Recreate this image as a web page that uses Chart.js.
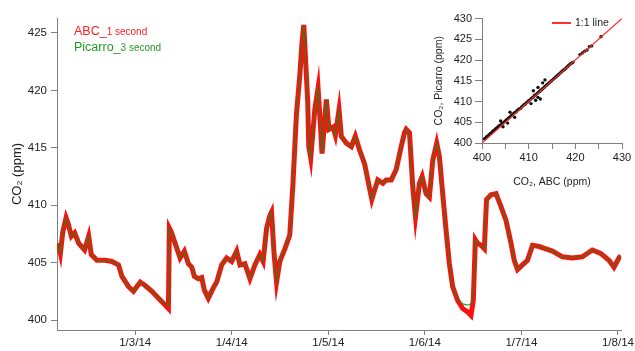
<!DOCTYPE html>
<html>
<head>
<meta charset="utf-8">
<script src="https://cdn.jsdelivr.net/npm/chart.js@4"></script>
<style>
  html, body { margin: 0; padding: 0; background: #fff; }
  #wrap { position: relative; width: 635px; height: 351px; font-family: 'Liberation Sans', Arial, sans-serif; }
  #main { position: absolute; left: 0; top: 0; }
  #inset { position: absolute; left: 420px; top: 0; }
  .leg { position: absolute; left: 74px; line-height: 16px; white-space: nowrap; }
  .big { font-size: 12.5px; }
  .small { font-size: 10px; }
  #oneone { position: absolute; left: 552px; top: 15px; font-size: 10.5px; color: #222; line-height: 15px; }
  #oneone i { display: inline-block; width: 19px; height: 1.5px; background: #ff3030; vertical-align: middle; margin-right: 4px; }
</style>
</head>
<body>
<div id="wrap">
  <canvas id="main" width="635" height="351"></canvas>
  <canvas id="inset" width="215" height="190"></canvas>
  <div class="leg" style="top:22px;color:#ff2020"><span class="big">ABC_</span><span class="small">1 second</span></div>
  <div class="leg" style="top:38px;color:#239a23"><span class="big">Picarro_</span><span class="small">3 second</span></div>
  <div id="oneone"><i></i>1:1 line</div>
</div>
<script>
// Zeitachse in Tagen (1/x/14), Werte in ppm
const days = [2.201, 2.225, 2.249, 2.284, 2.305, 2.339, 2.373, 2.414, 2.476, 2.518, 2.545, 2.604, 2.690, 2.759, 2.827, 2.863, 2.931, 2.982,
  3.052, 3.103, 3.173, 3.241, 3.310, 3.344, 3.354, 3.372, 3.413, 3.465, 3.509, 3.551, 3.586, 3.613, 3.654, 3.689, 3.716, 3.757, 3.809, 3.844, 3.896, 3.947, 3.999,
  4.051, 4.085, 4.136, 4.188, 4.240, 4.291, 4.325, 4.361, 4.395, 4.412, 4.439, 4.464, 4.498, 4.550, 4.601, 4.635, 4.670, 4.705, 4.728, 4.746, 4.787, 4.798, 4.818, 4.860, 4.894, 4.921, 4.935, 4.980,
  5.007, 5.049, 5.073, 5.111, 5.135, 5.187, 5.239, 5.280, 5.324, 5.376, 5.410, 5.451, 5.479, 5.513, 5.565, 5.600, 5.652, 5.703, 5.755, 5.789, 5.807, 5.841, 5.875, 5.903, 5.944, 5.972,
  6.013, 6.047, 6.082, 6.123, 6.151, 6.185, 6.220, 6.254, 6.288, 6.340, 6.392, 6.443, 6.478, 6.502, 6.523, 6.546, 6.582, 6.616, 6.639, 6.685, 6.737, 6.788, 6.840, 6.892, 6.926, 6.960,
  7.011, 7.063, 7.115, 7.184, 7.253, 7.321, 7.425, 7.528, 7.631, 7.735, 7.821, 7.907, 7.959, 8.010, 8.030];

const abc = [406.7, 405.8, 407.6, 408.9, 408.4, 407.3, 407.6, 406.7, 406.1, 407.3, 405.7, 405.2, 405.2, 405.1, 404.8, 403.8, 402.9, 402.5,
  403.3, 403.0, 402.5, 401.9, 401.3, 401.0, 408.0, 407.7, 406.7, 405.4, 406.0, 404.9, 404.6, 403.8, 403.6, 403.7, 402.6, 401.9, 402.8, 403.3, 404.8, 405.4, 405.1,
  406.0, 404.8, 404.9, 403.6, 404.8, 405.7, 405.1, 408.0, 409.1, 409.4, 405.7, 403.3, 405.1, 406.2, 407.4, 412.0, 417.9, 421.3, 424.2, 425.7, 419.0, 415.1, 414.1, 418.3, 420.2, 416.6, 414.5, 419.2,
  416.6, 416.8, 416.1, 418.3, 416.0, 415.4, 415.1, 416.0, 414.8, 413.6, 412.2, 410.5, 411.3, 412.2, 411.9, 412.2, 412.2, 413.1, 415.1, 416.3, 416.6, 416.3, 411.6, 409.0, 411.9, 412.5,
  411.0, 410.7, 413.9, 415.4, 414.2, 411.0, 407.8, 404.9, 402.9, 401.7, 401.0, 400.7, 400.4, 401.7, 407.0, 406.7, 406.5, 406.2, 410.5, 410.9, 411.0, 409.9, 408.7, 406.7, 405.2, 404.4,
  404.8, 405.2, 406.5, 406.4, 406.2, 406.0, 405.5, 405.4, 405.5, 406.1, 405.8, 405.2, 404.6, 405.4, 405.6];

const picarro = [406.7, 405.8, 407.6, 408.9, 408.4, 407.3, 407.6, 406.7, 406.1, 407.3, 405.7, 405.2, 405.2, 405.1, 404.8, 403.8, 402.9, 402.5,
  403.3, 403.0, 402.5, 401.9, 401.4, 401.3, 408.0, 407.7, 406.7, 405.4, 406.0, 404.9, 404.6, 403.8, 403.6, 403.7, 402.6, 401.9, 402.8, 403.3, 404.8, 405.4, 405.1,
  406.0, 404.8, 404.9, 403.6, 404.8, 405.7, 405.1, 408.0, 409.1, 409.4, 405.7, 403.3, 405.1, 406.2, 407.4, 412.0, 417.9, 421.3, 424.2, 425.7, 419.0, 415.1, 414.1, 418.3, 420.2, 416.6, 414.5, 419.2,
  416.6, 416.8, 416.1, 418.3, 416.0, 415.4, 415.1, 416.0, 414.8, 413.6, 412.2, 410.5, 411.3, 412.2, 411.9, 412.2, 412.2, 413.1, 415.1, 416.3, 416.6, 416.3, 411.6, 409.0, 411.9, 412.5,
  411.0, 410.7, 413.9, 415.4, 414.2, 411.0, 407.8, 404.9, 402.9, 401.8, 401.4, 401.3, 401.4, 401.9, 407.0, 406.7, 406.5, 406.2, 410.5, 410.9, 411.0, 409.9, 408.7, 406.7, 405.2, 404.4,
  404.8, 405.2, 406.5, 406.4, 406.2, 406.0, 405.5, 405.4, 405.5, 406.1, 405.8, 405.2, 404.6, 405.4, 405.6];

const dayTicks = [3, 4, 5, 6, 7, 8];
const ppmTicks = [400, 405, 410, 415, 420, 425];

// Inset: ABC gegen Picarro
const scatterAbc = [400.5, 400.8, 401.0, 401.3, 401.5, 401.8, 402.0, 402.3, 402.5, 402.8, 403.0, 403.3, 403.5, 403.8, 404.0, 404.3, 404.5, 404.8,
  405.0, 405.3, 405.5, 405.8, 406.0, 406.3, 406.5, 406.8, 407.0, 407.3, 407.5, 407.8, 408.0, 408.3, 408.5, 408.8, 409.0, 409.3, 409.5, 409.8,
  410.0, 410.3, 410.5, 410.8, 411.0, 411.3, 411.5, 411.8, 412.0, 412.3, 412.5, 412.8, 413.0, 413.3, 413.5, 413.8, 414.0, 414.3, 414.5, 414.8,
  415.0, 415.3, 415.5, 415.8, 416.0, 416.3, 416.5, 416.8, 417.0, 417.3, 417.5, 417.8, 418.0, 418.3, 418.5, 418.8, 419.0, 419.3, 419.5,
  404.0, 404.5, 405.5, 406.0, 407.0, 410.5, 411.0, 411.5, 412.0, 412.0, 412.5, 413.0, 413.5, 421.0, 421.5, 422.0, 422.5, 423.0, 423.5, 425.5];
const scatterPic = [401.0, 401.2, 401.5, 401.7, 402.0, 402.3, 402.4, 402.8, 403.0, 403.2, 403.5, 403.7, 404.0, 404.2, 404.3, 404.7, 404.8, 405.1,
  405.3, 405.6, 405.8, 406.1, 406.3, 406.6, 406.8, 407.1, 407.3, 407.5, 407.8, 408.1, 408.2, 408.4, 408.7, 409.0, 409.2, 409.4, 409.7, 409.9,
  410.2, 410.4, 410.7, 410.9, 411.1, 411.5, 411.6, 411.9, 412.1, 412.4, 412.6, 412.9, 413.1, 413.4, 413.6, 413.9, 414.1, 414.4, 414.6, 414.9,
  415.1, 415.4, 415.6, 415.9, 416.1, 416.4, 416.6, 416.9, 417.1, 417.4, 417.6, 417.8, 418.1, 418.4, 418.6, 418.9, 419.1, 419.3, 419.5,
  405.3, 403.9, 404.8, 407.4, 406.2, 409.5, 412.6, 410.3, 413.4, 411.0, 410.6, 414.5, 415.2, 421.3, 421.7, 422.1, 422.4, 423.2, 423.4, 425.6];
const lineOneOne = [400, 430];
const insetTicks = [400, 405, 410, 415, 420, 425, 430];

const axisCol = '#808080';
const txtCol = '#222';
const fontFam = "'Liberation Sans', Arial, sans-serif";

new Chart(document.getElementById('main'), {
  type: 'line',
  data: {
    datasets: [
      {
        label: 'ABC_1 second',
        data: days.map((d, i) => ({ x: d, y: abc[i] })),
        borderColor: '#ff1010',
        borderWidth: 5,
        pointRadius: 0,
        order: 1
      },
      {
        label: 'Picarro_3 second',
        data: days.map((d, i) => ({ x: d, y: picarro[i] })),
        borderColor: 'rgba(20,140,20,0.85)',
        borderWidth: 1.2,
        pointRadius: 0,
        order: 0
      }
    ]
  },
  options: {
    responsive: false,
    animation: false,
    devicePixelRatio: 1,
    layout: { padding: { left: 6, right: 13, top: 18, bottom: 0 } },
    plugins: { legend: { display: false }, tooltip: { enabled: false } },
    scales: {
      x: {
        type: 'linear',
        min: 2.19,
        max: 8.035,
        afterFit: s => { s.height = 21; },
        afterBuildTicks: s => { s.ticks = dayTicks.map(v => ({ value: v })); },
        grid: { drawOnChartArea: false, color: axisCol, tickLength: 5 },
        border: { color: axisCol, width: 1 },
        ticks: {
          color: txtCol, padding: 1, maxRotation: 0,
          font: { family: fontFam, size: 11.5 },
          callback: v => '1/' + v + '/14'
        }
      },
      y: {
        min: 399.13,
        max: 426.3,
        afterFit: s => { s.width = 51; },
        afterBuildTicks: s => { s.ticks = ppmTicks.map(v => ({ value: v })); },
        grid: { drawOnChartArea: false, color: axisCol, tickLength: 6 },
        border: { color: axisCol, width: 1 },
        ticks: { color: txtCol, padding: 4, font: { family: fontFam, size: 11.5 } },
        title: { display: true, text: 'CO₂ (ppm)', color: txtCol, font: { family: fontFam, size: 13 } }
      }
    }
  }
});

new Chart(document.getElementById('inset'), {
  type: 'scatter',
  data: {
    datasets: [
      {
        label: 'data',
        data: scatterAbc.map((v, i) => ({ x: v, y: scatterPic[i] })),
        backgroundColor: '#111',
        borderWidth: 0,
        pointRadius: 1.7,
        order: 1
      },
      {
        type: 'line',
        label: '1:1 line',
        data: lineOneOne.map(v => ({ x: v, y: v })),
        borderColor: '#ff3030',
        borderWidth: 1.3,
        pointRadius: 0,
        order: 0
      }
    ]
  },
  options: {
    responsive: false,
    animation: false,
    devicePixelRatio: 1,
    layout: { padding: { left: 9, right: 13, top: 18.5, bottom: 0 } },
    plugins: { legend: { display: false }, tooltip: { enabled: false } },
    scales: {
      x: {
        type: 'linear',
        min: 400,
        max: 430,
        afterFit: s => { s.height = 47; },
        afterBuildTicks: s => { s.ticks = insetTicks.map(v => ({ value: v })); },
        grid: { drawOnChartArea: false, color: axisCol, tickLength: 6 },
        border: { color: axisCol, width: 1 },
        ticks: {
          color: txtCol, padding: 2, maxRotation: 0,
          font: { family: fontFam, size: 11 },
          callback: v => (v % 10 === 0 ? v : '')
        },
        title: { display: true, text: 'CO₂, ABC (ppm)', color: txtCol, padding: { top: 0, bottom: 2 }, font: { family: fontFam, size: 10.5 } }
      },
      y: {
        min: 400,
        max: 430,
        afterFit: s => { s.width = 53; },
        afterBuildTicks: s => { s.ticks = insetTicks.map(v => ({ value: v })); },
        grid: { drawOnChartArea: false, color: axisCol, tickLength: 7 },
        border: { color: axisCol, width: 1 },
        ticks: { color: txtCol, padding: 3, font: { family: fontFam, size: 11 } },
        title: { display: true, text: 'CO₂, Picarro (ppm)', color: txtCol, font: { family: fontFam, size: 10.5 } }
      }
    }
  }
});
</script>
</body>
</html>
